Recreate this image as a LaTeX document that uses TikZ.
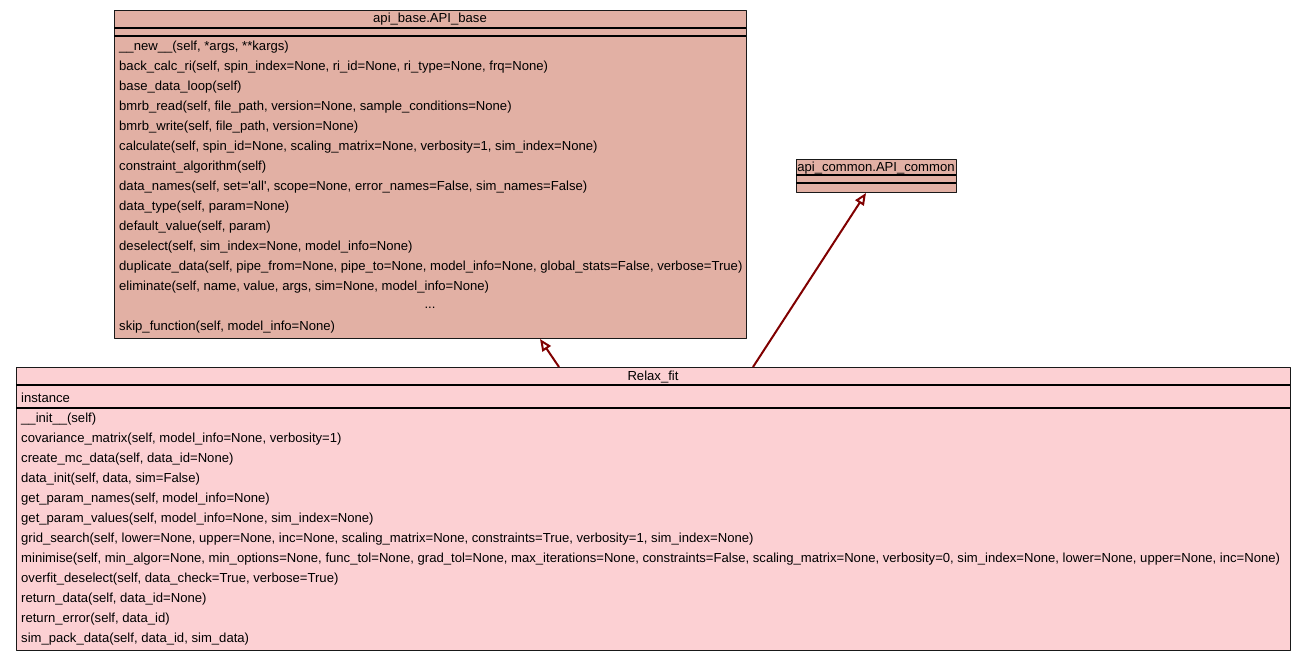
\documentclass[tikz,border=0pt]{standalone}
\usepackage{fontspec}
\setmainfont{Liberation Sans}
\usetikzlibrary{arrows.meta}
\definecolor{basefill}{RGB}{226,176,164}
\definecolor{fitfill}{RGB}{252,208,211}
\definecolor{inhred}{RGB}{128,0,0}
\tikzset{
  cls/.style={draw=black!90, line width=1.3pt, anchor=north west, inner sep=0pt},
  row/.style={anchor=west, inner sep=0pt},
  inherit/.style={draw=inhred, line width=2pt, -{Triangle[open, length=12pt, width=10pt, line width=2pt]}}
}
\begin{document}
\begin{tikzpicture}[x=1pt, y=-1pt, font=\fontsize{13.1}{15}\selectfont, line join=round]
	\useasboundingbox (0,0) rectangle (1305,661);
	% api_base.API_base
	\node[cls, fill=basefill, minimum width=632pt, minimum height=328pt] (base) at (114,10) {};
	\draw[line width=1.3pt] (114,28) -- (746,28);
	\draw[line width=1.3pt] (114,36) -- (746,36);
	\node (baseT) at (430,19.5) {api\_base.API\_base};
	\node[row] (b1) at (119,47.5) {\_\_new\_\_(self, *args, **kargs)};
	\node[row] (b2) at (119,67.5) {back\_calc\_ri(self, spin\_index=None, ri\_id=None, ri\_type=None, frq=None)};
	\node[row] (b3) at (119,87.5) {base\_data\_loop(self)};
	\node[row] (b4) at (119,107.5) {bmrb\_read(self, file\_path, version=None, sample\_conditions=None)};
	\node[row] (b5) at (119,127.5) {bmrb\_write(self, file\_path, version=None)};
	\node[row] (b6) at (119,147.5) {calculate(self, spin\_id=None, scaling\_matrix=None, verbosity=1, sim\_index=None)};
	\node[row] (b7) at (119,167.5) {constraint\_algorithm(self)};
	\node[row] (b8) at (119,187.5) {data\_names(self, set=\textquotesingle all\textquotesingle, scope=None, error\_names=False, sim\_names=False)};
	\node[row] (b9) at (119,207.5) {data\_type(self, param=None)};
	\node[row] (b10) at (119,227.5) {default\_value(self, param)};
	\node[row] (b11) at (119,247.5) {deselect(self, sim\_index=None, model\_info=None)};
	\node[row] (b12) at (119,267.5) {duplicate\_data(self, pipe\_from=None, pipe\_to=None, model\_info=None, global\_stats=False, verbose=True)};
	\node[row] (b13) at (119,287.5) {eliminate(self, name, value, args, sim=None, model\_info=None)};
	\node (b14) at (430,307.5) {...};
	\node[row] (b15) at (119,327.5) {skip\_function(self, model\_info=None)};
	% api_common.API_common
	\node[cls, fill=basefill, minimum width=160pt, minimum height=33pt] (common) at (796,159) {};
	\draw[line width=1.3pt] (796,175) -- (956,175);
	\draw[line width=1.3pt] (796,183) -- (956,183);
	\node (commonT) at (876,168) {api\_common.API\_common};
	% Relax_fit
	\node[cls, fill=fitfill, minimum width=1274pt, minimum height=283pt] (fit) at (16,367) {};
	\draw[line width=1.3pt] (16,385) -- (1290,385);
	\draw[line width=1.3pt] (16,408) -- (1290,408);
	\node (fitT) at (653,377.5) {Relax\_fit};
	\node[row] (f0) at (21,397.5) {instance};
	\node[row] (f1) at (21,419.5) {\_\_init\_\_(self)};
	\node[row] (f2) at (21,439.5) {covariance\_matrix(self, model\_info=None, verbosity=1)};
	\node[row] (f3) at (21,459.5) {create\_mc\_data(self, data\_id=None)};
	\node[row] (f4) at (21,479.5) {data\_init(self, data, sim=False)};
	\node[row] (f5) at (21,499.5) {get\_param\_names(self, model\_info=None)};
	\node[row] (f6) at (21,519.5) {get\_param\_values(self, model\_info=None, sim\_index=None)};
	\node[row] (f7) at (21,539.5) {grid\_search(self, lower=None, upper=None, inc=None, scaling\_matrix=None, constraints=True, verbosity=1, sim\_index=None)};
	\node[row] (f8) at (21,559.5) {minimise(self, min\_algor=None, min\_options=None, func\_tol=None, grad\_tol=None, max\_iterations=None, constraints=False, scaling\_matrix=None, verbosity=0, sim\_index=None, lower=None, upper=None, inc=None)};
	\node[row] (f9) at (21,579.5) {overfit\_deselect(self, data\_check=True, verbose=True)};
	\node[row] (f10) at (21,599.5) {return\_data(self, data\_id=None)};
	\node[row] (f11) at (21,619.5) {return\_error(self, data\_id)};
	\node[row] (f12) at (21,639.5) {sim\_pack\_data(self, data\_id, sim\_data)};
	% inheritance
	\coordinate (fitA) at (559,367);
	\coordinate (baseA) at (540,339);
	\coordinate (fitB) at (753,367);
	\coordinate (commonA) at (866,193);
	\draw[inherit] (fitA) -- (baseA);
	\draw[inherit] (fitB) -- (commonA);
\end{tikzpicture}
\end{document}
